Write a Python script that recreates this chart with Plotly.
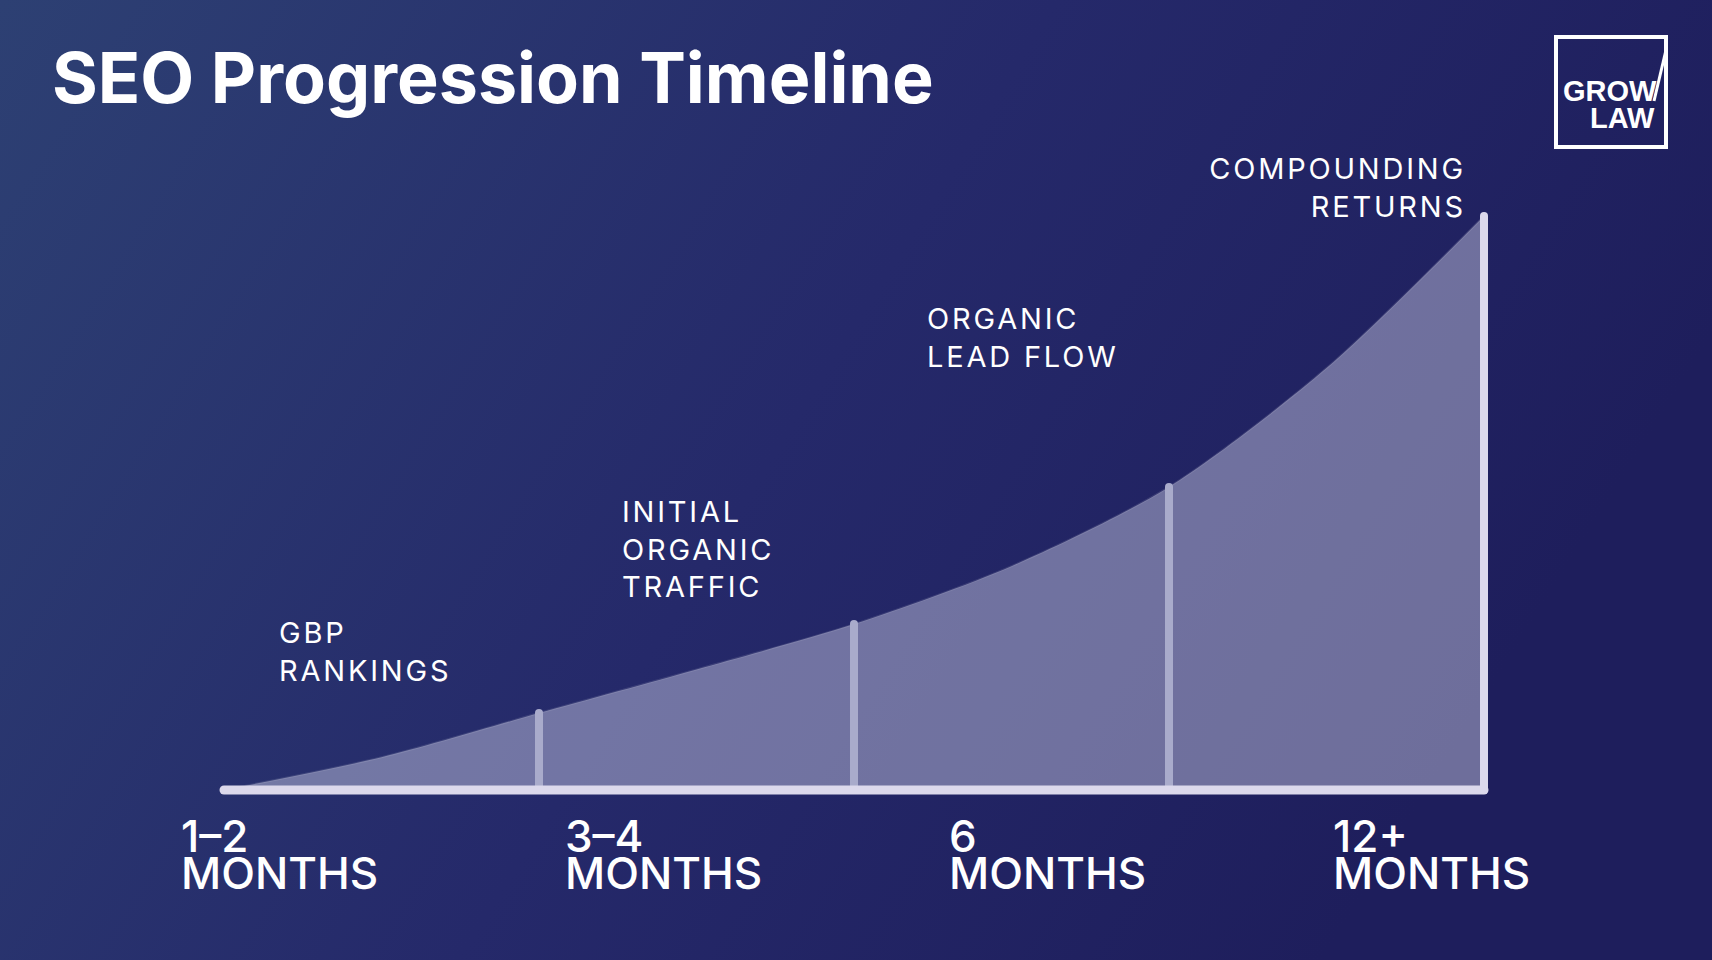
import base64
import plotly.graph_objects as go

W, H = 1712, 960

# ---------------- data ----------------
curve_x = [0, 0.5, 1, 1.5, 2, 2.5, 3, 3.5, 4]            # stage index along timeline
curve_y = [0, 5.7, 13.4, 21.0, 28.9, 39.0, 52.8, 73.5, 100]  # growth index
stage_x = [1, 2, 3, 4]
stage_labels = ["GBP<br>RANKINGS", "INITIAL<br>ORGANIC<br>TRAFFIC",
                "ORGANIC<br>LEAD FLOW", "COMPOUNDING<br>RETURNS"]
month_top = ["1–2", "3–4", "6", "12+"]
month_bottom = ["MONTHS", "MONTHS", "MONTHS", "MONTHS"]
title_text = "SEO Progression Timeline"

# ---------------- helpers ----------------
def px(x):
    return x / W

def py(y):
    return 1 - y / H

# background gradient as svg data uri
svg = (
    "<svg xmlns='http://www.w3.org/2000/svg' width='1712' height='960' "
    "viewBox='0 0 1712 960' preserveAspectRatio='none'>"
    "<defs><linearGradient id='g' x1='0' y1='0' x2='1' y2='0.35'>"
    "<stop offset='0' stop-color='#2d4073'/>"
    "<stop offset='0.55' stop-color='#25296a'/>"
    "<stop offset='1' stop-color='#1e1e5c'/>"
    "</linearGradient></defs>"
    "<rect width='1712' height='960' fill='url(#g)'/></svg>"
)
bg_uri = "data:image/svg+xml;base64," + base64.b64encode(svg.encode()).decode()

fig = go.Figure()

# filled growth curve
fig.add_trace(go.Scatter(
    x=curve_x, y=curve_y, mode="lines", fill="tozeroy",
    fillcolor="rgba(236,236,255,0.39)",
    line=dict(color="rgba(255,255,255,0.10)", width=2, shape="spline", smoothing=0.8),
    hoverinfo="skip", showlegend=False,
))

# stage dividers
for i, sx in enumerate(stage_x):
    top = curve_y[curve_x.index(sx)]
    last = i == len(stage_x) - 1
    fig.add_trace(go.Scatter(
        x=[sx, sx], y=[0, top], mode="lines",
        line=dict(color="#dcd9ec" if last else "#a9abcb", width=8),
        hoverinfo="skip", showlegend=False,
    ))

# baseline
fig.add_trace(go.Scatter(
    x=[curve_x[0], curve_x[-1]], y=[0, 0], mode="lines",
    line=dict(color="#dcd9ec", width=9),
    hoverinfo="skip", showlegend=False,
))

annotations = []
# title
annotations.append(dict(
    text=title_text, xref="paper", yref="paper", x=px(50), y=py(77),
    xanchor="left", yanchor="middle", showarrow=False,
    font=dict(family="Inter", size=70, color="white", weight=700),
))

# stage labels
label_pos = [(277, 651, "left"), (620, 549, "left"), (925, 337, "left"), (1468, 187, "right")]
for txt, (lx, ly, al) in zip(stage_labels, label_pos):
    annotations.append(dict(
        text=txt, xref="paper", yref="paper", x=px(lx), y=py(ly),
        xanchor=al, yanchor="middle", align=al, showarrow=False,
        font=dict(family="Inter", size=29, color="white", weight=400),
    ))

# month labels
month_x = [179, 563, 947, 1331]
for t, b, mx in zip(month_top, month_bottom, month_x):
    annotations.append(dict(
        text=t, xref="paper", yref="paper", x=px(mx), y=py(836),
        xanchor="left", yanchor="middle", showarrow=False,
        font=dict(family="Inter", size=44, color="white", weight=500),
    ))
    annotations.append(dict(
        text=b, xref="paper", yref="paper", x=px(mx), y=py(873),
        xanchor="left", yanchor="middle", showarrow=False,
        font=dict(family="Inter", size=44, color="white", weight=500),
    ))

# logo text
annotations.append(dict(
    text="GROW", xref="paper", yref="paper", x=px(1659), y=py(91),
    xanchor="right", yanchor="middle", showarrow=False,
    font=dict(family="Liberation Sans", size=29, color="white", weight=700),
))
annotations.append(dict(
    text="LAW", xref="paper", yref="paper", x=px(1657), y=py(118),
    xanchor="right", yanchor="middle", showarrow=False,
    font=dict(family="Liberation Sans", size=29, color="white", weight=700),
))

shapes = [
    dict(type="rect", xref="paper", yref="paper",
         x0=px(1556), x1=px(1666), y0=py(37), y1=py(147),
         line=dict(color="white", width=4), fillcolor="rgba(0,0,0,0)"),
    dict(type="line", xref="paper", yref="paper",
         x0=px(1654), y0=py(101), x1=px(1666), y1=py(50),
         line=dict(color="white", width=3)),
]

x_unit = 315.0
y_unit = 5.74
fig.update_layout(
    width=W, height=H,
    margin=dict(l=0, r=0, t=0, b=0),
    paper_bgcolor="#262e68", plot_bgcolor="rgba(0,0,0,0)",
    xaxis=dict(visible=False, range=[-224 / x_unit, 4 + (W - 1484) / x_unit], fixedrange=True),
    yaxis=dict(visible=False, range=[-(H - 790) / y_unit, 100 + 216 / y_unit], fixedrange=True),
    images=[dict(source=bg_uri, xref="paper", yref="paper", x=0, y=1, sizex=1, sizey=1,
                 sizing="stretch", layer="below", xanchor="left", yanchor="top")],
    annotations=annotations,
    shapes=shapes,
    showlegend=False,
)

post = """
document.body.style.margin='0';
document.body.style.overflow='hidden';
var st=document.createElement('style');
st.innerHTML='g.annotation[data-index="1"] text, g.annotation[data-index="2"] text, g.annotation[data-index="3"] text, g.annotation[data-index="4"] text{letter-spacing:2.8px}'
 + ' .scatterlayer .js-line{stroke-linecap:round}';
document.head.appendChild(st);
"""
fig.write_html("out.html", post_script=post, config={"displayModeBar": False})
